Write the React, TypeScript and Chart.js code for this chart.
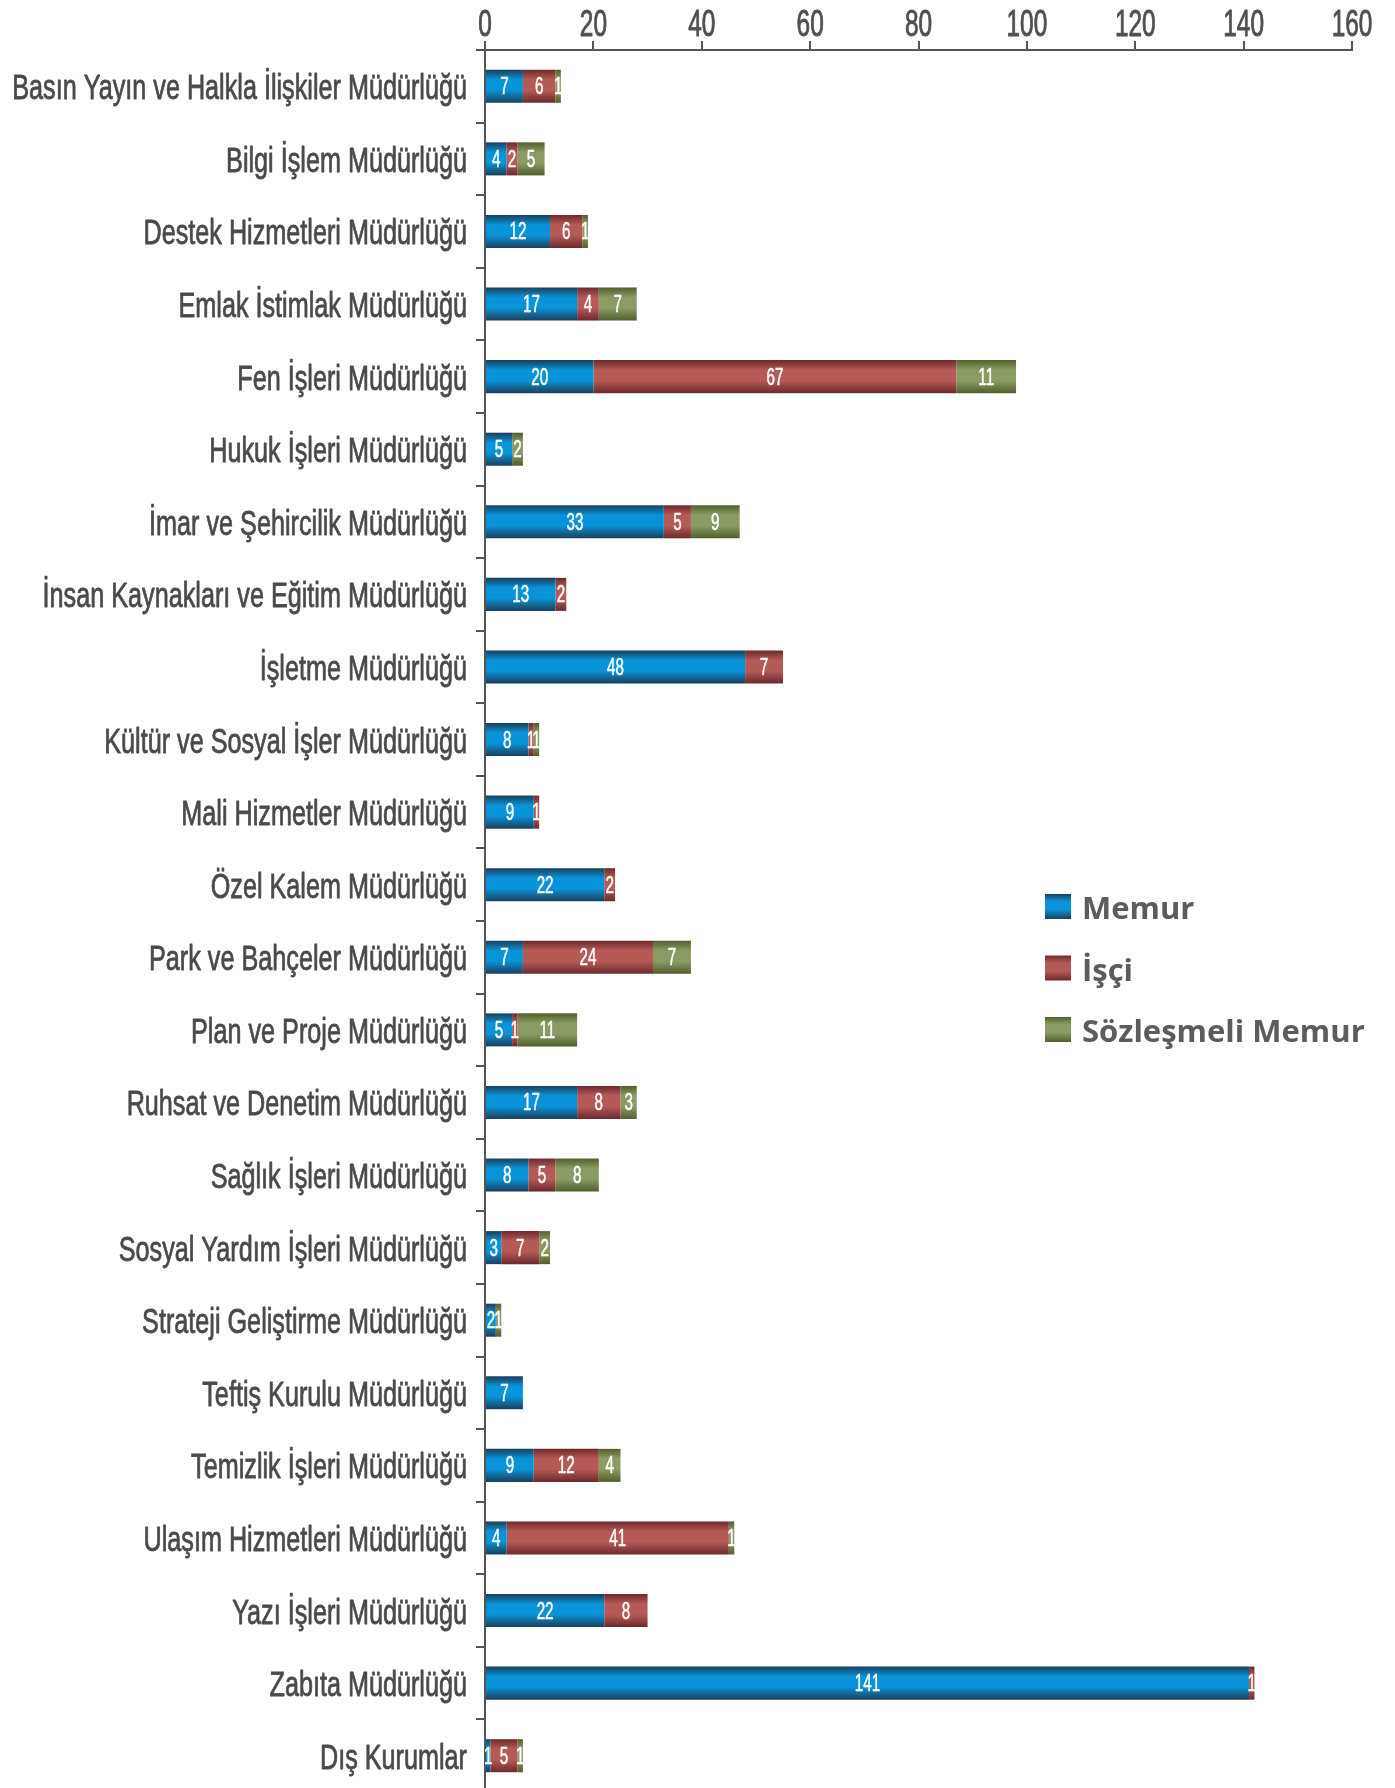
import React, { useEffect, useRef } from 'react';
import { Chart, registerables } from 'chart.js';

Chart.register(...registerables);

const categories = [
  'Basın Yayın ve Halkla İlişkiler Müdürlüğü',
  'Bilgi İşlem Müdürlüğü',
  'Destek Hizmetleri Müdürlüğü',
  'Emlak İstimlak Müdürlüğü',
  'Fen İşleri Müdürlüğü',
  'Hukuk İşleri Müdürlüğü',
  'İmar ve Şehircilik Müdürlüğü',
  'İnsan Kaynakları ve Eğitim Müdürlüğü',
  'İşletme Müdürlüğü',
  'Kültür ve Sosyal İşler Müdürlüğü',
  'Mali Hizmetler Müdürlüğü',
  'Özel Kalem Müdürlüğü',
  'Park ve Bahçeler Müdürlüğü',
  'Plan ve Proje Müdürlüğü',
  'Ruhsat ve Denetim Müdürlüğü',
  'Sağlık İşleri Müdürlüğü',
  'Sosyal Yardım İşleri Müdürlüğü',
  'Strateji Geliştirme Müdürlüğü',
  'Teftiş Kurulu Müdürlüğü',
  'Temizlik İşleri Müdürlüğü',
  'Ulaşım Hizmetleri Müdürlüğü',
  'Yazı İşleri Müdürlüğü',
  'Zabıta Müdürlüğü',
  'Dış Kurumlar',
];

const memur = [7, 4, 12, 17, 20, 5, 33, 13, 48, 8, 9, 22, 7, 5, 17, 8, 3, 2, 7, 9, 4, 22, 141, 1];
const isci = [6, 2, 6, 4, 67, null, 5, 2, 7, 1, 1, 2, 24, 1, 8, 5, 7, null, null, 12, 41, 8, 1, 5];
const sozlesmeli = [1, 5, 1, 7, 11, 2, 9, null, null, 1, null, null, 7, 11, 3, 8, 2, 1, null, 4, 1, null, null, 1];

const seriesNames = ['Memur', 'İşçi', 'Sözleşmeli Memur'];
const xMin = 0;
const xMax = 160;
const xStep = 20;

const palette = [
  { dark: '#1a3f5c', mid: '#0993d8' },
  { dark: '#6c292d', mid: '#b65a55' },
  { dark: '#525f2c', mid: '#8a9c64' },
];

const BAR_PCT = 0.455;
const NARROW = "'Liberation Sans', Arial, sans-serif";

function vGradient(c: CanvasRenderingContext2D, y0: number, y1: number, dark: string, mid: string) {
  const g = c.createLinearGradient(0, y0, 0, y1);
  g.addColorStop(0, dark);
  g.addColorStop(0.3, mid);
  g.addColorStop(0.62, mid);
  g.addColorStop(1, dark);
  return g;
}

function squishText(
  c: CanvasRenderingContext2D,
  text: string,
  x: number,
  y: number,
  font: string,
  sx: number,
  align: CanvasTextAlign,
  color: string,
  stroke = 0
) {
  c.save();
  c.translate(x, y);
  c.scale(sx, 1);
  c.font = font;
  c.fillStyle = color;
  c.textAlign = align;
  c.textBaseline = 'alphabetic';
  c.fillText(text, 0, 0);
  if (stroke > 0) {
    c.strokeStyle = color;
    c.lineWidth = stroke;
    c.lineJoin = 'round';
    c.strokeText(text, 0, 0);
  }
  c.restore();
}

const labelsPlugin = {
  id: 'customLabels',
  afterDatasetsDraw(chart: any) {
    const c: CanvasRenderingContext2D = chart.ctx;
    chart.data.datasets.forEach((ds: any, i: number) => {
      const meta = chart.getDatasetMeta(i);
      meta.data.forEach((bar: any, j: number) => {
        const v = ds.data[j];
        if (!v) return;
        const p = bar.getProps(['x', 'base', 'y'], true);
        squishText(c, String(v), (p.x + p.base) / 2, p.y + 8, `23px ${NARROW}`, 0.66, 'center', '#ffffff', 0.5);
      });
    });
  },
  afterDraw(chart: any) {
    const c: CanvasRenderingContext2D = chart.ctx;
    const ys = chart.scales.y;
    const xs = chart.scales.x;
    // category labels
    ys.getLabels().forEach((lab: string, i: number) => {
      const y = ys.getPixelForValue(i);
      squishText(c, lab, ys.right - 18, y + 13, `35px ${NARROW}`, 0.72, 'right', '#4a4a4a', 0.8);
    });
    // value axis labels
    xs.ticks.forEach((t: any) => {
      const x = xs.getPixelForValue(t.value);
      squishText(c, String(t.value), x, xs.bottom - 14, `37px ${NARROW}`, 0.66, 'center', '#505050', 0.9);
    });
    // legend
    chart.data.datasets.forEach((ds: any, i: number) => {
      const y0 = 894 + 61.5 * i;
      const col = palette[i];
      c.save();
      c.fillStyle = vGradient(c, y0, y0 + 25, col.dark, col.mid);
      c.fillRect(1045, y0, 26, 25);
      c.font = "bold 31px 'Open Sans', sans-serif";
      c.fillStyle = '#5c5c5c';
      c.textAlign = 'left';
      c.textBaseline = 'alphabetic';
      c.fillText(ds.label, 1082, y0 + 25);
      c.restore();
    });
  },
};

function barColor(i: number) {
  return (ctx: any) => {
    const chart = ctx.chart;
    const col = palette[i];
    const ys = chart.scales && chart.scales.y;
    if (!ys || ctx.dataIndex == null || !chart.chartArea) return col.mid;
    const yc = ys.getPixelForValue(ctx.dataIndex);
    const band = Math.abs(ys.getPixelForValue(1) - ys.getPixelForValue(0));
    const h = band * BAR_PCT;
    return vGradient(chart.ctx, yc - h / 2, yc + h / 2, col.dark, col.mid);
  };
}

export default function App() {
  const ref = useRef<HTMLCanvasElement | null>(null);

  useEffect(() => {
    if (!ref.current) return;
    const seriesData = [memur, isci, sozlesmeli];
    const chart = new Chart(ref.current, {
      type: 'bar',
      data: {
        labels: categories,
        datasets: seriesNames.map((name, i) => ({
          label: name,
          data: seriesData[i],
          backgroundColor: barColor(i),
          borderWidth: 0,
          barPercentage: BAR_PCT,
          categoryPercentage: 1,
        })),
      },
      options: {
        indexAxis: 'y',
        animation: false,
        responsive: false,
        devicePixelRatio: 1,
        layout: { padding: { left: 0, right: 43, top: 0, bottom: 2 } },
        plugins: {
          legend: { display: false },
          tooltip: { enabled: false },
        },
        scales: {
          x: {
            type: 'linear',
            position: 'top',
            min: xMin,
            max: xMax,
            stacked: true,
            ticks: { stepSize: xStep, display: false },
            grid: { drawOnChartArea: false, drawTicks: true, tickLength: 9, color: '#555555', lineWidth: 2 },
            border: { color: '#555555', width: 2 },
            afterFit(s: any) {
              s.height = 50;
            },
          },
          y: {
            type: 'category',
            stacked: true,
            offset: true,
            ticks: { display: false },
            grid: { offset: true, drawOnChartArea: false, drawTicks: true, tickLength: 9, color: '#555555', lineWidth: 2 },
            border: { color: '#555555', width: 2 },
            afterFit(s: any) {
              s.width = 485;
            },
          },
        },
      } as any,
      plugins: [labelsPlugin],
    });
    return () => chart.destroy();
  }, []);

  return (
    <div
      style={{
        position: 'absolute',
        left: 0,
        top: 0,
        width: 1395,
        height: 1788,
        overflow: 'hidden',
        background: '#ffffff',
      }}
    >
      <canvas ref={ref} width={1395} height={1794} style={{ display: 'block' }} />
    </div>
  );
}
